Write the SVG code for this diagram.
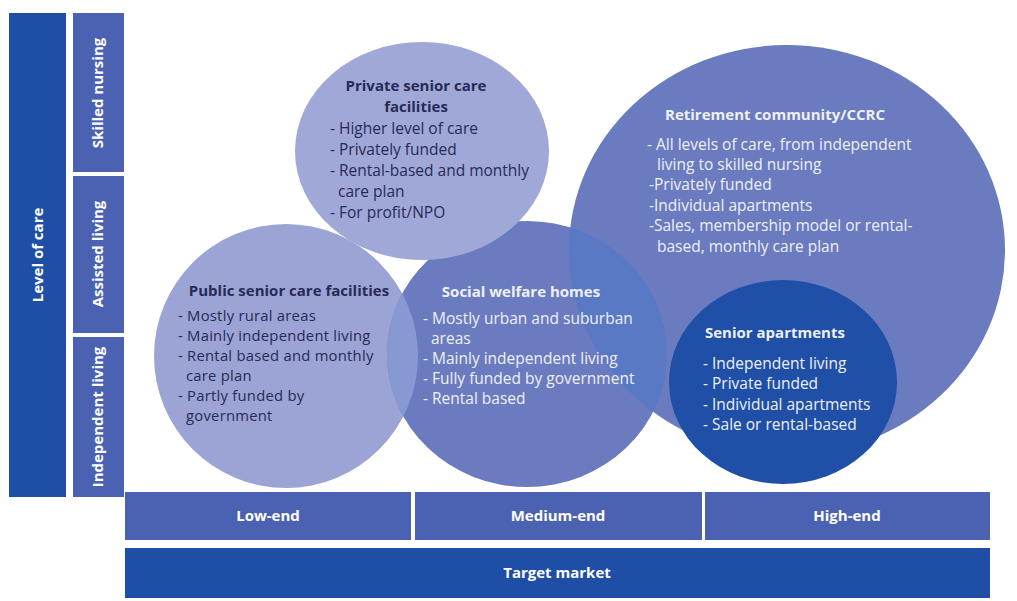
<svg xmlns="http://www.w3.org/2000/svg" width="1017" height="601" viewBox="0 0 1017 601">
  <style>
    .lbl { font-family: "Open Sans", "Liberation Sans", sans-serif; font-weight: bold; font-size: 15px; fill: #ffffff; text-anchor: middle; }
    .ttl { font-family: "Open Sans", "Liberation Sans", sans-serif; font-weight: bold; font-size: 15px; }
    .txt { font-family: "Open Sans", "Liberation Sans", sans-serif; font-size: 15.5px; }
    .txt-tight { font-family: "Open Sans", "Liberation Sans", sans-serif; font-size: 14.8px; letter-spacing: 0.25px; }
    .dark { fill: #272b56; }
    .light { fill: #eef0fa; }
    .bar-dark { fill: #1f4ea6; }
    .bar-mid { fill: #4b62b2; }
  </style>
  <defs>
    <clipPath id="clip-social">
      <ellipse cx="527" cy="354" rx="140" ry="133"/>
    </clipPath>
  </defs>
  <rect width="1017" height="601" fill="#ffffff"/>

  <!-- vertical axis: level of care -->
  <g id="axis-level-of-care">
    <rect class="bar-dark" x="9" y="13" width="57" height="484"/>
    <text class="lbl" transform="translate(43,255) rotate(-90)">Level of care</text>
  </g>
  <g id="level-skilled-nursing">
    <rect class="bar-mid" x="73" y="13" width="51" height="159"/>
    <text class="lbl" transform="translate(103,93) rotate(-90)">Skilled nursing</text>
  </g>
  <g id="level-assisted-living">
    <rect class="bar-mid" x="73" y="176" width="51" height="157"/>
    <text class="lbl" transform="translate(103,254) rotate(-90)">Assisted living</text>
  </g>
  <g id="level-independent-living">
    <rect class="bar-mid" x="73" y="337" width="51" height="160"/>
    <text class="lbl" transform="translate(103,417) rotate(-90)">Independent living</text>
  </g>

  <!-- horizontal axis: target market -->
  <g id="market-low-end">
    <rect class="bar-mid" x="125" y="492" width="286" height="48"/>
    <text class="lbl" x="268" y="521">Low-end</text>
  </g>
  <g id="market-medium-end">
    <rect class="bar-mid" x="415" y="492" width="287" height="48"/>
    <text class="lbl" x="558" y="521">Medium-end</text>
  </g>
  <g id="market-high-end">
    <rect class="bar-mid" x="705" y="492" width="285" height="48"/>
    <text class="lbl" x="847" y="521">High-end</text>
  </g>
  <g id="axis-target-market">
    <rect class="bar-dark" x="125" y="548" width="865" height="50"/>
    <text class="lbl" x="557" y="578">Target market</text>
  </g>

  <!-- facility bubbles -->
  <g id="public-senior-care">
    <ellipse cx="286" cy="356" rx="132" ry="132" fill="#9ba4d4"/>
  </g>
  <g id="social-welfare-homes">
    <ellipse cx="527" cy="354" rx="140" ry="133" fill="#6b7bc0"/>
    <!-- overlap with the public bubble -->
    <ellipse cx="286" cy="356" rx="132" ry="132" fill="#8799d2" clip-path="url(#clip-social)"/>
  </g>
  <g id="retirement-community">
    <ellipse cx="787" cy="250" rx="218" ry="205" fill="#6a7bc0"/>
    <!-- overlap with the social welfare bubble -->
    <ellipse cx="787" cy="250" rx="218" ry="205" fill="#5a79c5" clip-path="url(#clip-social)"/>
  </g>
  <g id="private-senior-care">
    <ellipse cx="422" cy="151" rx="127" ry="109" fill="#a0a8d8"/>
    <text class="ttl dark" text-anchor="middle"><tspan x="416" y="91">Private senior care</tspan><tspan x="416" y="112">facilities</tspan></text>
    <text class="txt dark">
      <tspan x="330" y="134">- Higher level of care</tspan>
      <tspan x="330" y="155">- Privately funded</tspan>
      <tspan x="330" y="176">- Rental-based and monthly</tspan>
      <tspan x="338" y="197">care plan</tspan>
      <tspan x="330" y="218">- For profit/NPO</tspan>
    </text>
  </g>
  <g id="public-senior-care-text">
    <text class="ttl dark" x="289" y="296" text-anchor="middle">Public senior care facilities</text>
    <text class="txt-tight dark">
      <tspan x="178" y="321">- Mostly rural areas</tspan>
      <tspan x="178" y="341">- Mainly independent living</tspan>
      <tspan x="178" y="361">- Rental based and monthly</tspan>
      <tspan x="186" y="381">care plan</tspan>
      <tspan x="178" y="401">- Partly funded by</tspan>
      <tspan x="186" y="421">government</tspan>
    </text>
  </g>
  <g id="social-welfare-homes-text">
    <text class="ttl light" x="521" y="297" text-anchor="middle">Social welfare homes</text>
    <text class="txt light">
      <tspan x="423" y="324">- Mostly urban and suburban</tspan>
      <tspan x="431" y="344">areas</tspan>
      <tspan x="423" y="364">- Mainly independent living</tspan>
      <tspan x="423" y="384">- Fully funded by government</tspan>
      <tspan x="423" y="404">- Rental based</tspan>
    </text>
  </g>
  <g id="retirement-community-text">
    <text class="ttl light" x="775" y="120" text-anchor="middle">Retirement community/CCRC</text>
    <text class="txt light">
      <tspan x="647" y="150">- All levels of care, from independent</tspan>
      <tspan x="657" y="170">living to skilled nursing</tspan>
      <tspan x="649" y="190">-Privately funded</tspan>
      <tspan x="649" y="211">-Individual apartments</tspan>
      <tspan x="649" y="231">-Sales, membership model or rental-</tspan>
      <tspan x="657" y="252">based, monthly care plan</tspan>
    </text>
  </g>
  <g id="senior-apartments">
    <ellipse cx="783" cy="382" rx="114" ry="102" fill="#1f4fa6"/>
    <text class="ttl light" x="705" y="338">Senior apartments</text>
    <text class="txt light">
      <tspan x="703" y="369">- Independent living</tspan>
      <tspan x="703" y="389">- Private funded</tspan>
      <tspan x="703" y="410">- Individual apartments</tspan>
      <tspan x="703" y="430">- Sale or rental-based</tspan>
    </text>
  </g>

  <!-- no connectors in this chart -->
  <g id="connectors"/>
</svg>
